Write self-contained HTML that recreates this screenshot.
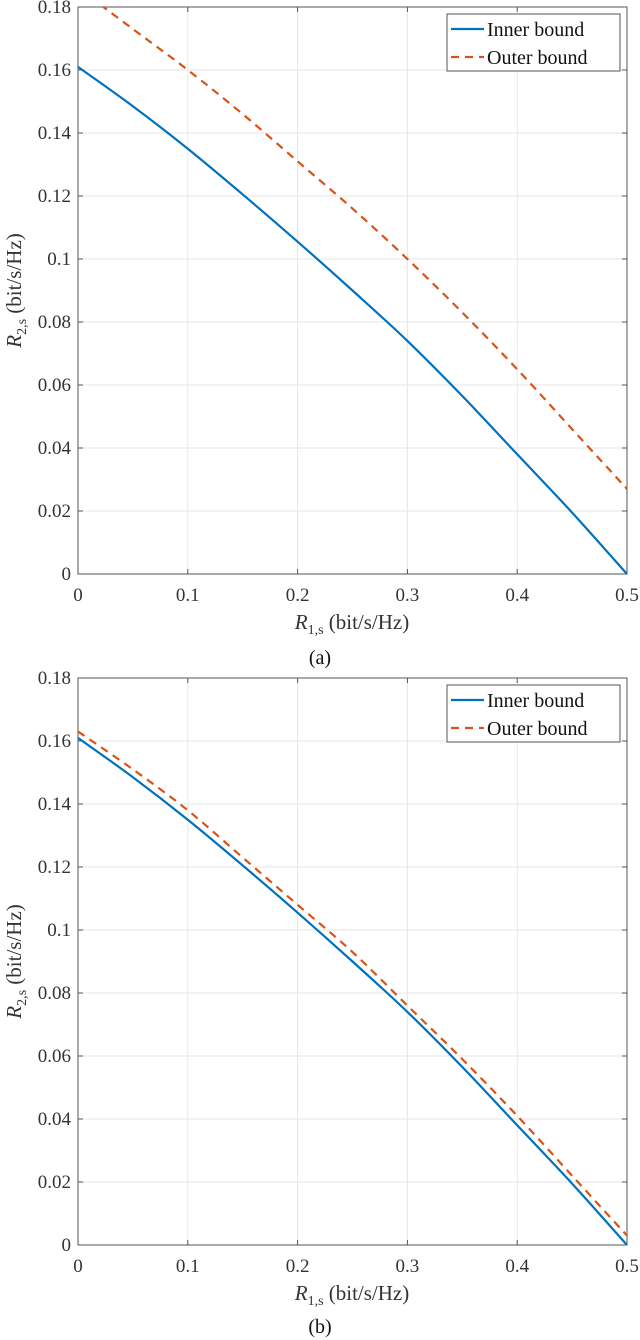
<!DOCTYPE html>
<html><head><meta charset="utf-8"><style>
body{margin:0;background:#fff;width:640px;height:1340px;overflow:hidden}
svg{display:block}
svg text{font-family:"Liberation Serif","DejaVu Serif",serif}
</style></head><body>
<svg id="s" width="640" height="1340" font-family="Liberation Serif, serif"></svg>
<script>
const xTicks=[0,0.1,0.2,0.3,0.4,0.5];
const yTicks=[0,0.02,0.04,0.06,0.08,0.1,0.12,0.14,0.16,0.18];
const xVals=[0,0.05,0.1,0.15,0.2,0.25,0.3,0.35,0.4,0.45,0.5];
const innerA=[0.161,0.1485,0.135,0.1205,0.1055,0.0900,0.0740,0.0565,0.0380,0.0195,0];
const outerA=[0.186,0.173,0.160,0.146,0.131,0.116,0.100,0.083,0.065,0.046,0.027];
const innerB=[0.161,0.1485,0.135,0.1205,0.1055,0.0900,0.0740,0.0565,0.0380,0.0195,0];
const outerB=[0.163,0.151,0.138,0.123,0.108,0.093,0.076,0.059,0.041,0.022,0.003];
const NS='http://www.w3.org/2000/svg';
const svg=document.getElementById('s');
function mk(t,a,p){const e=document.createElementNS(NS,t);for(const k in a)e.setAttribute(k,a[k]);(p||svg).appendChild(e);return e;}
function smooth(P){let d='M'+P[0][0]+','+P[0][1];
  for(let i=0;i<P.length-1;i++){const p0=P[Math.max(0,i-1)],p1=P[i],p2=P[i+1],p3=P[Math.min(P.length-1,i+2)];
    d+=' C'+(p1[0]+(p2[0]-p0[0])/6)+','+(p1[1]+(p2[1]-p0[1])/6)+' '+(p2[0]-(p3[0]-p1[0])/6)+','+(p2[1]-(p3[1]-p1[1])/6)+' '+p2[0]+','+p2[1];}
  return d;}
function panel(id,top,bot,inner,outer,cap,capY){
  const L=78,R=627;
  const g=mk('g',{});
  
  
  const xs=v=>L+(R-L)*v/0.5, ys=v=>bot+(top-bot)*v/0.18;
  const cid='clip'+id;
  const cp=mk('clipPath',{id:cid},g);mk('rect',{x:L,y:top,width:R-L,height:bot-top},cp);
  xTicks.forEach(t=>{const l=mk('line',{x1:xs(t),x2:xs(t),y1:top,y2:bot,stroke:'#e6e6e6','stroke-width':1},g);
    });
  yTicks.forEach(t=>{const l=mk('line',{x1:L,x2:R,y1:ys(t),y2:ys(t),stroke:'#e6e6e6','stroke-width':1},g);
    });
  const ax=mk('rect',{x:L,y:top,width:R-L,height:bot-top,fill:'none',stroke:'#555','stroke-width':1},g);
  
  xTicks.forEach(t=>{mk('line',{x1:xs(t),x2:xs(t),y1:bot,y2:bot-5,stroke:'#555'},g);mk('line',{x1:xs(t),x2:xs(t),y1:top,y2:top+5,stroke:'#555'},g);
    const tx=mk('text',{x:xs(t),y:bot+27,'font-size':19,fill:'#333','text-anchor':'middle'},g);tx.textContent=String(t);
    });
  yTicks.forEach(t=>{mk('line',{x1:L,x2:L+5,y1:ys(t),y2:ys(t),stroke:'#555'},g);mk('line',{x1:R,x2:R-5,y1:ys(t),y2:ys(t),stroke:'#555'},g);
    const tx=mk('text',{x:L-7,y:ys(t)+6,'font-size':19,fill:'#333','text-anchor':'end'},g);tx.textContent=String(t);
    });
  const pts=a=>a.map((v,i)=>[xs(xVals[i]),ys(v)]);
  const o=mk('path',{d:smooth(pts(outer)),fill:'none',stroke:'#d95319','stroke-width':2.2,'stroke-dasharray':'8,6','clip-path':'url(#'+cid+')'},g);
  
  const i=mk('path',{d:smooth(pts(inner)),fill:'none',stroke:'#0072bd','stroke-width':2.2,'clip-path':'url(#'+cid+')'},g);
  
  const lg=mk('g',{},g);
  mk('rect',{x:447,y:top+7,width:173,height:57,fill:'#fff',stroke:'#555'},lg);
  mk('line',{x1:451,x2:484,y1:top+22,y2:top+22,stroke:'#0072bd','stroke-width':2.2},lg);
  mk('line',{x1:451,x2:484,y1:top+50,y2:top+50,stroke:'#d95319','stroke-width':2.2,'stroke-dasharray':'8,6'},lg);
  const t1=mk('text',{x:487,y:top+29,'font-size':20,fill:'#111'},lg);t1.textContent='Inner bound';
  
  const t2=mk('text',{x:487,y:top+57,'font-size':20,fill:'#111'},lg);t2.textContent='Outer bound';
  
  const xt=mk('text',{x:352,y:bot+55,'font-size':21,fill:'#333','text-anchor':'middle'},g);
  xt.innerHTML='<tspan font-style="italic">R</tspan><tspan font-size="14" dy="5">1,s</tspan><tspan dy="-5"> (bit/s/Hz)</tspan>';
  
  const cy=(top+bot)/2;
  const yt=mk('text',{x:0,y:0,'font-size':21,fill:'#333','text-anchor':'middle',transform:'translate(21,'+cy+') rotate(-90)'},g);
  yt.innerHTML='<tspan font-style="italic">R</tspan><tspan font-size="14" dy="5">2,s</tspan><tspan dy="-5"> (bit/s/Hz)</tspan>';
  
  const c=mk('text',{x:320,y:capY,'font-size':20,fill:'#111','text-anchor':'middle'},g);c.textContent=cap;
  
}
panel('a',7,574,innerA,outerA,'(a)',664);
panel('b',678,1245,innerB,outerB,'(b)',1333);
</script>
</body></html>
